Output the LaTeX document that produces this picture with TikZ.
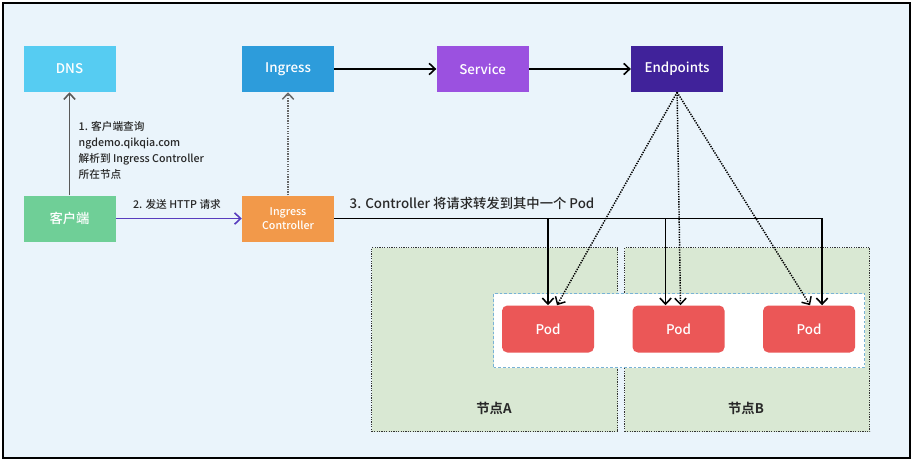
\documentclass[tikz,border=0pt]{standalone}
\usepackage{fontspec}
\setmainfont{Noto Sans CJK SC}[BoldFont={Noto Sans CJK SC Medium}]
\newfontfamily\heavyfont{Noto Sans CJK SC Bold}
\usetikzlibrary{arrows.meta,positioning}
\definecolor{bgblue}{RGB}{234,244,251}
\definecolor{dnsblue}{RGB}{86,204,242}
\definecolor{ingblue}{RGB}{45,156,219}
\definecolor{svcpurple}{RGB}{155,81,224}
\definecolor{eppurple}{RGB}{64,34,154}
\definecolor{cligreen}{RGB}{111,207,151}
\definecolor{icorange}{RGB}{242,153,74}
\definecolor{podred}{RGB}{235,87,87}
\definecolor{nodegreen}{RGB}{217,232,211}
\definecolor{banddash}{RGB}{120,178,214}
\definecolor{reqpurple}{RGB}{88,60,190}
\definecolor{txtgrey}{RGB}{40,40,40}

\begin{document}
\begin{tikzpicture}[x=0.75pt, y=-0.75pt,
      node distance=77.25pt and 76.5pt,
      box/.style={rectangle, fill=#1, text=white, minimum width=69pt,
                  minimum height=34.5pt, inner sep=0pt,
                  font=\fontsize{10}{12}\selectfont\bfseries},
      pod/.style={box=podred, rounded corners=4pt, minimum height=35.25pt},
      region/.style={rectangle, fill=nodegreen, draw=black!80, line width=1.1pt,
                     dash pattern=on 0.9pt off 0.9pt, anchor=north west, inner sep=0pt},
      lbl/.style={text=txtgrey, font=\fontsize{8}{11.8}\selectfont\bfseries, align=left},
      arr/.style={-{Straight Barb[length=4.5pt,width=8.5pt]}, line width=1.2pt},
      dots/.style={arr, line width=1.1pt, dash pattern=on 1pt off 0.9pt}]
    % frame
    \useasboundingbox (0,0) rectangle (914,464);
    \fill[white] (0,0) rectangle (914,464);
    \draw[fill=bgblue, line width=1.6pt] (3,3) rectangle (910,458);

    % top row
    \node[box=dnsblue] (dns) at (69.5,69) {DNS};
    \node[box=ingblue, right=94.5pt of dns] (ingress) {Ingress};
    \node[box=svcpurple, right=of ingress] (service) {Service};
    \node[box=eppurple, right=of service] (endpoints) {Endpoints};

    % second row
    \node[box=cligreen, below=of dns] (client) {客户端};
    \node[box=icorange, below=of ingress, align=center,
          font=\fontsize{8}{11}\selectfont\bfseries] (ic) {Ingress\\Controller};

    % nodes and pods
    \node[region, minimum width=184.5pt, minimum height=138pt] (nodeA) at (371,247) {};
    \node[region, minimum width=183.75pt, minimum height=138pt] (nodeB) at (624,247) {};
    \node[rectangle, fill=white, draw=banddash, line width=0.8pt, dash pattern=on 2pt off 1.5pt,
          anchor=north west, inner sep=0pt, minimum width=278.25pt, minimum height=55.5pt]
          (podband) at (493,293) {};
    \node[pod] (pod1) at (548,329) {Pod};
    \node[pod, right=28.5pt of pod1] (pod2) {Pod};
    \node[pod, right=28.5pt of pod2] (pod3) {Pod};
    \node[lbl, font=\fontsize{10}{12}\selectfont\heavyfont] (labA) at (494,408) {节点A};
    \node[lbl, font=\fontsize{10}{12}\selectfont\heavyfont] (labB) at (746,408) {节点B};

    % drop points on the pods
    \coordinate (drop2) at ([xshift=-9.75pt]pod2.north);
    \coordinate (drop3) at ([xshift=9.75pt]pod3.north);

    % connectors
    \draw[arr, draw=black!65] (client) -- (dns);
    \draw[dots, draw=black!60] (ic) -- (ingress);
    \draw[arr] (ingress) -- (service);
    \draw[arr] (service) -- (endpoints);
    \draw[arr, draw=reqpurple] (client) -- (ic);
    \draw[arr] (ic.east) -| (drop3);
    \draw[arr] (ic.east -| pod1.north) -- (pod1.north);
    \draw[arr] (ic.east -| drop2) -- (drop2);
    \draw[dots] (endpoints.south) -- ([xshift=6.75pt]pod1.north);
    \draw[dots] (endpoints.south) -- ([xshift=1.5pt]pod2.north);
    \draw[dots] (endpoints.south) -- ([xshift=0.75pt]pod3.north);

    % labels
    \node[lbl, anchor=north west] (step1) at (74,117) {1. 客户端查询\\ngdemo.qikqia.com\\解析到 Ingress Controller\\所在节点};
    \node[lbl] (step2) at (177,204) {2. 发送 HTTP 请求};
    \node[lbl, anchor=west, font=\fontsize{10}{12}\selectfont\bfseries] (step3) at (345,203) {3. Controller 将请求转发到其中一个 Pod};
  \end{tikzpicture}
\end{document}
